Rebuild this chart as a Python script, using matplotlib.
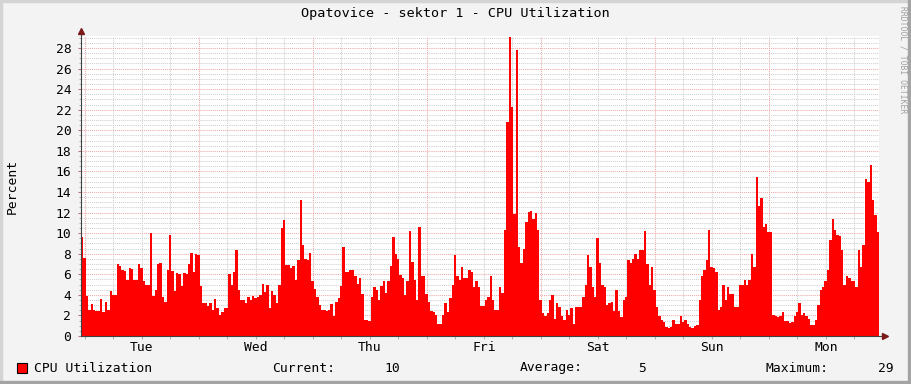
import numpy as np
import matplotlib
matplotlib.use('Agg')
import matplotlib.pyplot as plt
import matplotlib.ticker as ticker
from matplotlib.lines import Line2D
from matplotlib.patches import Rectangle

# ========== Data ==========
title = 'Opatovice - sektor 1 - CPU Utilization'
series_label = 'CPU Utilization'
days = ['Tue', 'Wed', 'Thu', 'Fri', 'Sat', 'Sun', 'Mon']
step_hours = 0.5          # one value every 30 minutes, 7 days
first_midnight = 0.84     # hours from window start to Tue 00:00

# CPU utilization in percent, 30 min averages
cpu = [
    9.6, 7.6, 3.9, 2.5, 3.1, 2.5, 2.4, 2.4, 3.6, 2.3,
    3.3, 2.5, 4.4, 4.0, 4.0, 7.0, 6.8, 6.4, 6.3, 5.4,
    6.6, 6.5, 5.4, 5.4, 7.0, 6.6, 5.3, 5.0, 5.0, 10.0,
    3.9, 4.5, 7.0, 7.1, 3.8, 3.3, 6.4, 9.8, 6.3, 4.4,
    6.1, 6.0, 4.9, 6.1, 6.0, 7.0, 8.1, 6.2, 8.0, 7.9,
    4.9, 3.2, 3.2, 2.9, 3.2, 2.5, 3.6, 2.7, 2.0, 2.3,
    2.75, 2.75, 6.0, 5.0, 6.25, 8.4, 4.5, 3.5, 3.5, 3.2,
    3.8, 3.5, 3.9, 3.7, 3.8, 4.0, 5.1, 4.3, 5.0, 2.7,
    4.4, 4.0, 3.2, 5.0, 10.5, 11.3, 6.9, 6.9, 6.6, 6.8,
    5.4, 7.4, 13.2, 8.8, 7.45, 7.4, 8.1, 5.3, 4.6, 3.8,
    3.0, 2.5, 2.5, 2.4, 2.5, 3.1, 1.9, 3.3, 3.7, 4.9,
    8.7, 6.2, 6.25, 6.4, 6.4, 5.8, 5.1, 5.6, 4.1, 1.6,
    1.6, 1.5, 3.8, 4.8, 4.5, 3.5, 4.9, 5.3, 4.2, 5.3,
    6.8, 9.65, 8.0, 7.5, 5.9, 5.6, 4.0, 5.3, 10.2, 7.2,
    5.4, 3.5, 10.55, 5.8, 5.8, 4.1, 3.3, 2.4, 2.3, 2.0,
    1.2, 1.2, 2.0, 3.2, 2.3, 3.7, 5.0, 7.9, 5.8, 5.4,
    6.7, 5.6, 5.6, 6.4, 6.25, 4.8, 5.3, 4.8, 2.9, 2.9,
    3.5, 3.8, 5.8, 3.5, 2.5, 2.5, 4.8, 4.2, 10.3, 20.8,
    29.1, 22.3, 11.9, 27.8, 8.7, 7.1, 8.5, 11.1, 12.1, 12.2,
    11.4, 12.0, 10.3, 3.5, 2.2, 1.9, 2.2, 3.5, 4.0, 1.7,
    3.2, 2.85, 1.9, 1.6, 2.5, 2.0, 2.7, 1.2, 2.85, 2.85,
    2.85, 3.8, 5.0, 7.9, 6.7, 4.8, 3.8, 9.5, 7.1, 5.0,
    4.8, 3.0, 3.2, 3.3, 2.4, 4.5, 2.4, 1.8, 3.5, 3.8,
    7.4, 7.1, 7.45, 8.0, 7.5, 8.4, 8.4, 10.2, 7.0, 5.0,
    6.7, 4.5, 2.85, 1.9, 1.6, 1.4, 0.9, 0.75, 0.9, 1.6,
    1.2, 1.2, 1.9, 1.4, 1.55, 1.2, 0.9, 0.75, 1.0, 1.1,
    3.5, 5.8, 6.4, 7.4, 10.3, 6.7, 6.6, 6.25, 2.5, 2.85,
    5.0, 3.5, 4.8, 4.1, 4.1, 2.85, 2.85, 5.0, 5.0, 5.4,
    5.0, 5.4, 8.0, 6.7, 15.5, 12.6, 13.4, 10.6, 10.9, 10.1,
    10.1, 2.0, 1.9, 1.8, 1.9, 2.3, 1.5, 1.5, 1.3, 1.4,
    1.9, 2.3, 3.2, 2.0, 2.2, 1.9, 1.7, 1.1, 1.1, 1.55,
    3.0, 4.5, 4.8, 5.3, 6.4, 9.3, 11.4, 10.3, 9.8, 9.7,
    8.4, 5.0, 5.8, 5.6, 5.3, 5.3, 4.8, 8.4, 6.7, 8.8,
    15.3, 15.0, 16.6, 13.2, 11.8, 10.1,
]

# ========== Style ==========
plt.rcParams['font.family'] = ['DejaVu Sans Mono']
W, H = 911, 384
fs = 9.4

fig = plt.figure(figsize=(W / 100, H / 100), dpi=100, facecolor='#f3f3f3')
ax = fig.add_axes([81 / W, 48 / H, 798 / W, 300 / H])
ax.set_facecolor('white')

edges = np.arange(len(cpu) + 1) * step_hours
ax.stairs(cpu, edges, fill=True, color='#ff0000', linewidth=0, zorder=2)

ax.set_xlim(0, edges[-1])
ax.set_ylim(0, 29.17)

# grid: pink major lines, light grey minor lines
ax.xaxis.set_major_locator(ticker.FixedLocator(np.arange(first_midnight, edges[-1], 24)))
ax.xaxis.set_minor_locator(ticker.FixedLocator(np.arange(first_midnight % 6, edges[-1], 6)))
ax.yaxis.set_major_locator(ticker.MultipleLocator(2))
ax.yaxis.set_minor_locator(ticker.MultipleLocator(0.5))
ax.set_xticklabels([])
ax.set_axisbelow(True)
ax.grid(which='major', color='#f0a8a8', linestyle=(0, (1, 1)), linewidth=0.75)
ax.grid(which='minor', color='#cfcfcf', linestyle=(0, (1, 1)), linewidth=0.75)

ax.tick_params(axis='y', which='major', length=2, width=0.75, color='#c07070',
               labelsize=fs, pad=5)
ax.tick_params(axis='y', which='minor', length=1.5, width=0.75, color='#b0b0b0')
ax.tick_params(axis='x', which='both', length=2, width=0.75, color='#b0b0b0')
for s in ax.spines.values():
    s.set_visible(False)

# axes with arrows
ax.add_line(Line2D([0, 0], [0, 1 + 5 / 300], transform=ax.transAxes, color='#404040',
                   lw=0.8, clip_on=False, zorder=5))
ax.add_line(Line2D([0, 1 + 6 / 798], [0, 0], transform=ax.transAxes, color='#404040',
                   lw=0.8, clip_on=False, zorder=5))
ax.plot([0], [1 + 5 / 300], marker='^', ms=4.5, color='#7a1a1a', transform=ax.transAxes,
        clip_on=False, zorder=6)
ax.plot([1 + 6 / 798], [0], marker='>', ms=4.5, color='#7a1a1a', transform=ax.transAxes,
        clip_on=False, zorder=6)

# day labels centred at noon
for k, d in enumerate(days):
    ax.annotate(d, xy=(first_midnight + 12 + 24 * k, 0), xycoords=('data', 'axes fraction'),
                xytext=(0, -8), textcoords='offset points', ha='center', va='center',
                fontsize=fs)

# texts
fig.text(455.5 / W, 1 - 14 / H, title, ha='center', va='center', fontsize=fs + 0.3)
fig.text(12 / W, 1 - 186 / H, 'Percent', rotation=90, ha='center', va='center', fontsize=fs)
fig.text(903 / W, 1 - 60 / H, 'RRDTOOL / TOBI OETIKER', rotation=270, ha='center',
         va='center', fontsize=5.8, color='#a0a0a0')

# legend line
ly = 1 - 368 / H
fig.patches.append(Rectangle((17 / W, (H - 373) / H), 10 / W, 10 / H, facecolor='#ff0000',
                             edgecolor='black', lw=0.8, transform=fig.transFigure))
fig.text(34 / W, ly, series_label, ha='left', va='center', fontsize=fs)
stats = [('Current:', cpu[-1], 272, 400),
         ('Average:', np.mean(cpu), 520, 646),
         ('Maximum:', max(cpu), 766, 894)]
for name, val, x0, x1 in stats:
    fig.text(x0 / W, ly, name, ha='left', va='center', fontsize=fs)
    fig.text(x1 / W, ly, f'{val:.0f}', ha='right', va='center', fontsize=fs)

# 3d frame
fig.patches.append(Rectangle((0, 1 - 2 / H), 1, 2 / H, color='#d4d4d4', transform=fig.transFigure))
fig.patches.append(Rectangle((0, 0), 2 / W, 1, color='#d4d4d4', transform=fig.transFigure))
fig.patches.append(Rectangle((1 - 3 / W, 0), 3 / W, 1, color='#a4a4a4', transform=fig.transFigure))
fig.patches.append(Rectangle((0, 0), 1, 3 / H, color='#a4a4a4', transform=fig.transFigure))

fig.savefig('out.png', dpi=100, facecolor=fig.get_facecolor())
